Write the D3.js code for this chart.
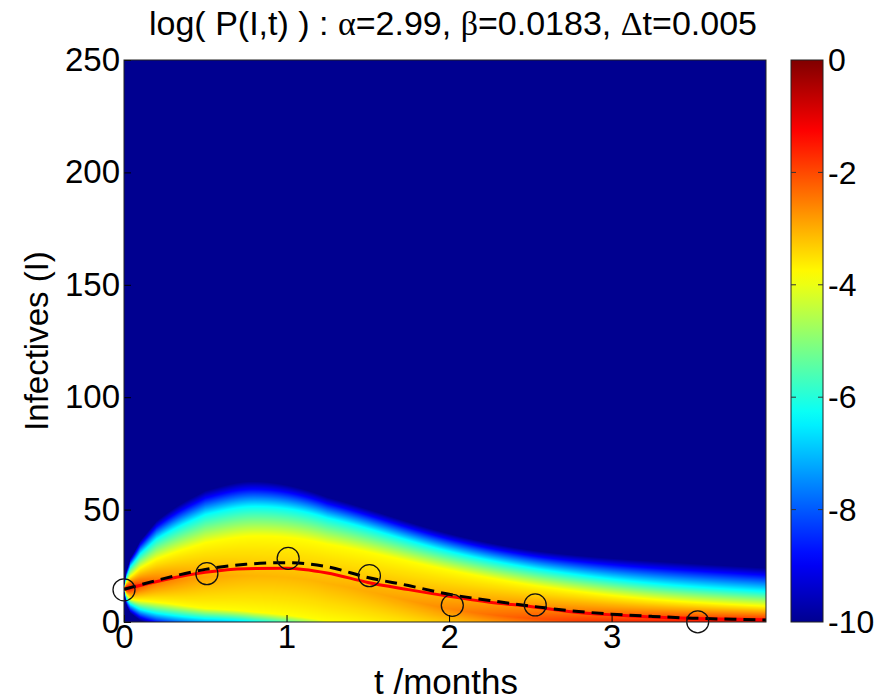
<!DOCTYPE html>
<html>
<head>
<meta charset="utf-8">
<script src="https://cdn.jsdelivr.net/npm/d3@7"></script>
<style>
  body { margin: 0; background: #fff; }
  svg { font-family: "Liberation Sans", Arial, sans-serif; }
</style>
</head>
<body>
<div id="chart"></div>
<script>
var tKnots   = [0,    0.015, 0.04, 0.1,  0.2,  0.35, 0.5,  0.8,  1.25, 1.9,  2.55, 3.25, 3.95];
var peakI    = [15,   15,    15,   16.5, 18,   19,   20,   21,   19,   6,    0.5,  0.3,  0.2];
var peakLogP = [-0.3, -0.8,  -1.3, -2.0, -2.4, -2.7, -2.9, -3.1, -3.1, -2.8, -2.0, -1.6, -1.4];
// I where log P falls to the yellow / cyan / -10 level, above and below the peak
var upYellow = [15.1, 17.5,  20,   24,   28,   32,   35,   39.5, 36,   24,   15.5, 9.5,  7];
var upCyan   = [15.3, 20,    24.5, 30,   37,   43,   47.5, 53,   48,   32,   23,   16.5, 13.5];
var up10     = [15.5, 23,    28,   36,   45,   53,   58,   65,   57,   40,   30.5, 27,   24];
var loYellow = [14.9, 12.5,  10,   9.5,  9,    7.5,  6,    5,    1,    -6,   -8,   -10,  -10];
var loCyan   = [14.7, 10,    8,    5.5,  4,    2.5,  1.6,  0.8,  -4,   -12,  -18,  -22,  -22];
var lo10     = [14.5, 7,     4,    0.5,  -2,   -4,   -5,   -6,   -10,  -22,  -30,  -35,  -35];
var levels   = [-10, -6.3, -3.8];

// mean curves
var tCurve   = [0, 0.25, 0.5, 0.75, 1.0, 1.25, 1.5, 1.75, 2.0, 2.25, 2.5, 2.75, 3.0, 3.25, 3.5, 3.75, 3.95];
var odeMean  = [14.5, 18.8, 22.1, 23.7, 23.9, 21.8, 17.6, 14.4, 11.4, 8.8, 6.9, 4.6, 3.2, 2.2, 1.6, 1.2, 1.0];
var simMean  = [14.5, 19.4, 23.4, 25.7, 26.4, 24.6, 19.8, 16.2, 12.3, 9.6, 7.1, 5.0, 3.5, 2.5, 1.7, 1.2, 0.9];

// observed data
var obsT = [0, 0.51, 1.01, 1.51, 2.02, 2.53, 3.53];
var obsI = [14.3, 21.5, 28.3, 20.6, 7.4, 7.6, 0.1];

var xTicks = [0, 1, 2, 3];
var yTicks = [0, 50, 100, 150, 200, 250];
var cTicks = [0, -2, -4, -6, -8, -10];

var W = 892, H = 700;
var plot = { left: 124, top: 60, width: 642, height: 562 };
var cbar = { left: 791, width: 32 };

var svg = d3.select('#chart').append('svg')
  .attr('width', W).attr('height', H);

var x = d3.scaleLinear().domain([0, 3.95]).range([plot.left, plot.left + plot.width]);
var y = d3.scaleLinear().domain([0, 250]).range([plot.top + plot.height, plot.top]);

// MATLAB jet colormap
var jet = d3.scaleLinear()
  .domain([-10, -8.889, -6.349, -3.81, -1.27, 0])
  .range(['#000090', '#0000ff', '#00ffff', '#ffff00', '#ff0000', '#800000'])
  .clamp(true);

var lut = d3.range(1025).map(function(i) { return d3.rgb(jet(-10 + i * 10 / 1024)); });

// smooth time interpolation of the knot arrays (b-spline over knot index)
var knotIndex = d3.scaleLinear().domain(tKnots)
  .range(tKnots.map(function(d, i) { return i / (tKnots.length - 1); })).clamp(true);
function tInterp(arr) {
  var b = d3.interpolateBasis(arr);
  return function(t) { return b(knotIndex(t)); };
}
var fPeakI = tInterp(peakI), fPeakV = tInterp(peakLogP),
  fUY = tInterp(upYellow), fUC = tInterp(upCyan), fU10 = tInterp(up10),
  fLY = tInterp(loYellow), fLC = tInterp(loCyan), fL10 = tInterp(lo10);

// heatmap into a canvas, then into the svg
var canvas = document.createElement('canvas');
canvas.width = plot.width; canvas.height = plot.height;
var ctx = canvas.getContext('2d');
var img = ctx.createImageData(plot.width, plot.height);
for (var px = 0; px < plot.width; px++) {
  var t = x.invert(plot.left + px + 0.5);
  var profile = d3.scaleLinear()
    .domain([fL10(t), fLC(t), fLY(t), fPeakI(t), fUY(t), fUC(t), fU10(t)])
    .range([levels[0], levels[1], levels[2], fPeakV(t), levels[2], levels[1], levels[0]])
    .clamp(true);
  for (var py = 0; py < plot.height; py++) {
    var v = profile(y.invert(plot.top + py + 0.5));
    var c = lut[Math.max(0, Math.min(1024, Math.round((v + 10) / 10 * 1024)))];
    var k = (py * plot.width + px) * 4;
    img.data[k] = c.r; img.data[k + 1] = c.g; img.data[k + 2] = c.b; img.data[k + 3] = 255;
  }
}
ctx.putImageData(img, 0, 0);

svg.append('image')
  .attr('x', plot.left).attr('y', plot.top)
  .attr('width', plot.width).attr('height', plot.height)
  .attr('preserveAspectRatio', 'none')
  .attr('href', canvas.toDataURL());

svg.append('clipPath').attr('id', 'clip')
  .append('rect')
  .attr('x', plot.left).attr('y', plot.top)
  .attr('width', plot.width).attr('height', plot.height);

var line = d3.line()
  .x(function(d) { return x(d[0]); })
  .y(function(d) { return y(d[1]); })
  .curve(d3.curveMonotoneX);

svg.append('path')
  .attr('clip-path', 'url(#clip)')
  .attr('d', line(tCurve.map(function(t, i) { return [t, odeMean[i]]; })))
  .attr('fill', 'none').attr('stroke', '#ff0000').attr('stroke-width', 3);

svg.append('path')
  .attr('clip-path', 'url(#clip)')
  .attr('d', line(tCurve.map(function(t, i) { return [t, simMean[i]]; })))
  .attr('fill', 'none').attr('stroke', '#000').attr('stroke-width', 3)
  .attr('stroke-dasharray', '12,7');

svg.selectAll('circle.obs')
  .data(obsT).enter()
  .append('circle')
  .attr('class', 'obs')
  .attr('cx', function(d) { return x(d); })
  .attr('cy', function(d, i) { return y(obsI[i]); })
  .attr('r', 11)
  .attr('fill', 'none').attr('stroke', '#111').attr('stroke-width', 1.3);

// axes
var xAxis = svg.append('g')
  .attr('transform', 'translate(0,' + (plot.top + plot.height) + ')')
  .call(d3.axisBottom(x).tickValues(xTicks).tickFormat(d3.format('d'))
    .tickSizeInner(-7).tickSizeOuter(0).tickPadding(3));
var yAxis = svg.append('g')
  .attr('transform', 'translate(' + plot.left + ',0)')
  .call(d3.axisLeft(y).tickValues(yTicks).tickFormat(d3.format('d'))
    .tickSizeInner(-7).tickSizeOuter(0).tickPadding(4));

[xAxis, yAxis].forEach(function(a) {
  a.select('.domain').remove();
  a.selectAll('line').attr('stroke', '#000');
  a.selectAll('text').attr('font-size', 33).attr('fill', '#000')
    .attr('font-family', '"Liberation Sans", Arial, sans-serif');
});

svg.append('rect')
  .attr('x', plot.left).attr('y', plot.top)
  .attr('width', plot.width).attr('height', plot.height)
  .attr('fill', 'none').attr('stroke', '#222').attr('stroke-width', 1);

// colorbar
var cy = d3.scaleLinear().domain([-10, 0]).range([plot.top + plot.height, plot.top]);
var grad = svg.append('defs').append('linearGradient')
  .attr('id', 'jetgrad').attr('x1', 0).attr('y1', 1).attr('x2', 0).attr('y2', 0);
d3.range(0, 41).forEach(function(i) {
  var v = -10 + i * 0.25;
  grad.append('stop').attr('offset', (i / 40)).attr('stop-color', jet(v));
});
svg.append('rect')
  .attr('x', cbar.left).attr('y', plot.top)
  .attr('width', cbar.width).attr('height', plot.height)
  .attr('fill', 'url(#jetgrad)').attr('stroke', '#222').attr('stroke-width', 1);

svg.selectAll('line.ctick-l')
  .data(cTicks.slice(1, -1)).enter()
  .append('line')
  .attr('x1', cbar.left).attr('x2', cbar.left + 5)
  .attr('y1', cy).attr('y2', cy)
  .attr('stroke', '#333');
svg.selectAll('line.ctick-r')
  .data(cTicks.slice(1, -1)).enter()
  .append('line')
  .attr('x1', cbar.left + cbar.width - 5).attr('x2', cbar.left + cbar.width)
  .attr('y1', cy).attr('y2', cy)
  .attr('stroke', '#333');
svg.selectAll('text.clabel')
  .data(cTicks).enter()
  .append('text')
  .attr('x', cbar.left + cbar.width + 5)
  .attr('y', cy)
  .attr('dy', '0.35em')
  .attr('font-size', 32)
  .text(function(d) { return d; });

// titles
var title = svg.append('text')
  .attr('x', 453).attr('y', 35)
  .attr('text-anchor', 'middle')
  .attr('font-size', 34);
title.append('tspan').text('log( P(I,t) ) : ');
title.append('tspan').attr('font-family', '"Liberation Serif", serif').text('α');
title.append('tspan').text('=2.99, ');
title.append('tspan').attr('font-family', '"Liberation Serif", serif').text('β');
title.append('tspan').text('=0.0183, ');
title.append('tspan').attr('font-family', '"Liberation Serif", serif').text('Δ');
title.append('tspan').text('t=0.005');

svg.append('text')
  .attr('x', 446).attr('y', 694)
  .attr('text-anchor', 'middle')
  .attr('font-size', 35)
  .text('t /months');

svg.append('text')
  .attr('transform', 'translate(48,' + (plot.top + plot.height / 2) + ') rotate(-90)')
  .attr('text-anchor', 'middle')
  .attr('font-size', 33)
  .text('Infectives (I)');
</script>
</body>
</html>
